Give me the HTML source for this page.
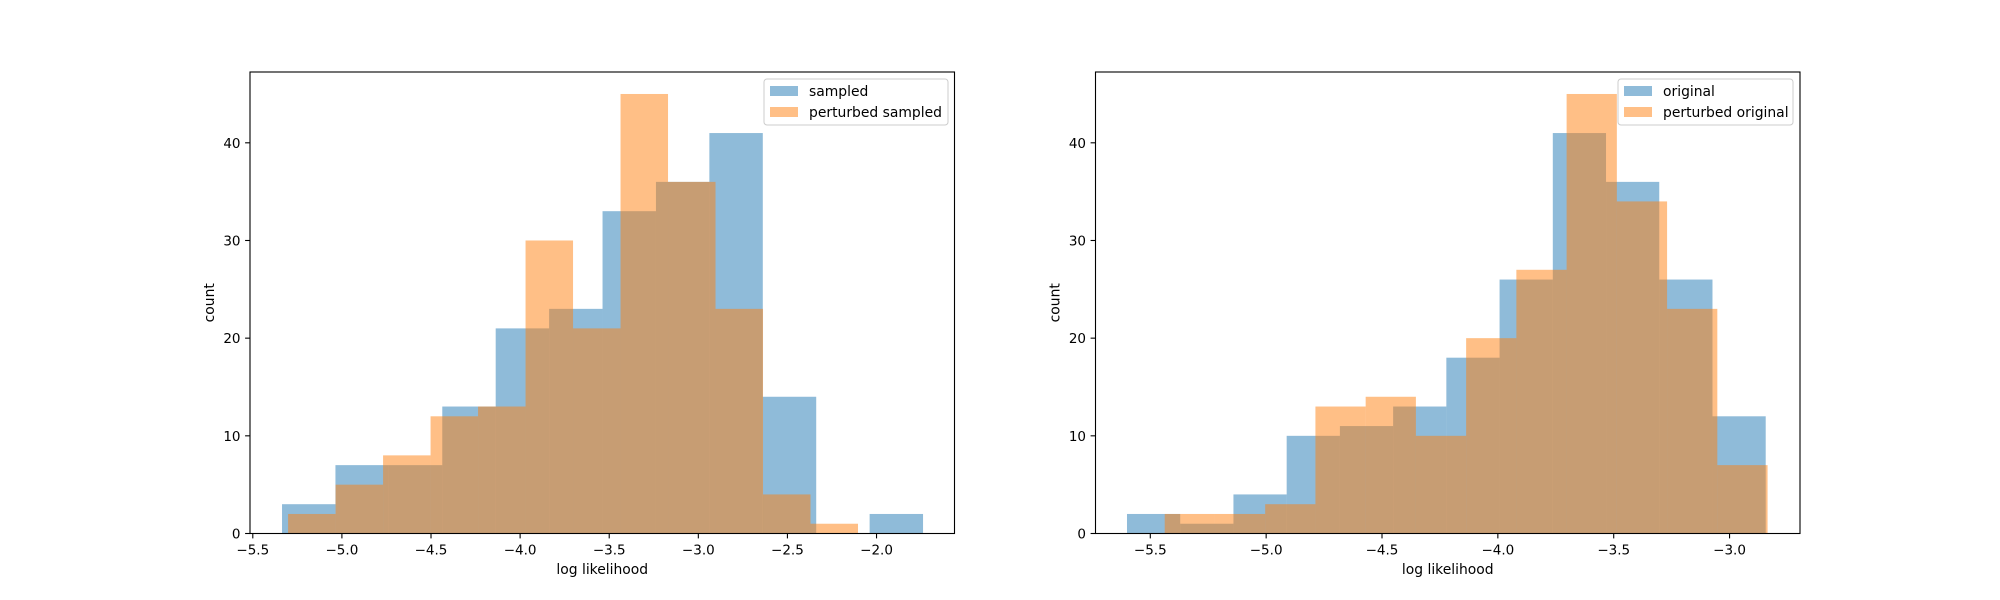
<!DOCTYPE html>
<html><head><meta charset="utf-8"><style>
html,body{margin:0;padding:0;background:#fff;}
svg{display:block;font-family:"DejaVu Sans","Liberation Sans",sans-serif;}
</style></head><body>
<svg id="chart" width="2000" height="600" viewBox="0 0 2000 600" xmlns="http://www.w3.org/2000/svg"></svg>
<script>
const leftBlueCounts = [3,7,7,13,21,23,33,36,41,14,0,2];
const leftBlueRange = [-5.336, -1.739];
const leftOrangeCounts = [2,5,8,12,13,30,21,45,36,23,4,1];
const leftOrangeRange = [-5.302, -2.104];
const rightBlueCounts = [2,1,4,10,11,13,18,26,41,36,26,12];
const rightBlueRange = [-5.6006, -2.844];
const rightOrangeCounts = [2,2,3,13,14,10,20,27,45,34,23,7];
const rightOrangeRange = [-5.4378, -2.836];
const leftXTicks = [-5.5,-5.0,-4.5,-4.0,-3.5,-3.0,-2.5,-2.0];
const rightXTicks = [-5.5,-5.0,-4.5,-4.0,-3.5,-3.0];
const yTicks = [0,10,20,30,40];
const leftLegend = ["sampled","perturbed sampled"];
const rightLegend = ["original","perturbed original"];

const NS="http://www.w3.org/2000/svg";
const svg=document.getElementById('chart');
function mk(tag,attrs,parent){const e=document.createElementNS(NS,tag);for(const k in attrs)e.setAttribute(k,attrs[k]);(parent||svg).appendChild(e);return e;}
const fmt=v=>(v<0?'\u2212':'')+Math.abs(v).toFixed(1);

function panel(name,ax,xlim,series,xticks,legend,legX0,legX1){
  const g=mk('g',{});
  
  
  const ylim=[0,47.25];
  const sx=v=>ax.x0+(v-xlim[0])/(xlim[1]-xlim[0])*(ax.x1-ax.x0);
  const sy=v=>ax.y1-(v-ylim[0])/(ylim[1]-ylim[0])*(ax.y1-ax.y0);
  series.forEach(s=>{
    const n=s.counts.length,w=(s.range[1]-s.range[0])/n;
    s.counts.forEach((c,i)=>{
      if(c<=0)return;
      const a=s.range[0]+i*w,b=a+w;
      const r=mk('rect',{x:sx(a),y:sy(c),width:sx(b)-sx(a),height:sy(0)-sy(c),fill:s.color,'fill-opacity':0.5},g);
      
      
    });
  });
  const frame=mk('rect',{x:ax.x0,y:ax.y0,width:ax.x1-ax.x0,height:ax.y1-ax.y0,fill:'none',stroke:'#000','stroke-width':1.1},g);
  
  
  xticks.forEach(t=>{
    const x=sx(t);
    mk('line',{x1:x,x2:x,y1:ax.y1,y2:ax.y1+4.9,stroke:'#000','stroke-width':1.1},g);
    const tx=mk('text',{x:x,y:ax.y1+21,'font-size':13.5,'text-anchor':'middle',fill:'#000'},g);
    tx.textContent=fmt(t);
    
    
  });
  yTicks.forEach(t=>{
    const y=sy(t);
    mk('line',{x1:ax.x0-4.9,x2:ax.x0,y1:y,y2:y,stroke:'#000','stroke-width':1.1},g);
    const tx=mk('text',{x:ax.x0-9.5,y:y+5,'font-size':13.5,'text-anchor':'end',fill:'#000'},g);
    tx.textContent=String(t);
    
    
  });
  const xl=mk('text',{x:(ax.x0+ax.x1)/2,y:574,'font-size':13.9,'text-anchor':'middle',fill:'#000'},g);
  xl.textContent='log likelihood';
  
  
  const yl=mk('text',{x:0,y:0,'font-size':13.9,'text-anchor':'middle',fill:'#000',transform:`translate(${ax.x0-36},${(ax.y0+ax.y1)/2}) rotate(-90)`},g);
  yl.textContent='count';
  
  
  const lg=mk('g',{},g);
  
  
  mk('rect',{x:legX0,y:79,width:legX1-legX0,height:46,rx:3,fill:'#fff','fill-opacity':0.8,stroke:'#ccc','stroke-width':1},lg);
  legend.forEach((lab,i)=>{
    const sw=mk('rect',{x:legX0+6,y:86+i*21,width:28,height:10,fill:series[i].color,'fill-opacity':0.5},lg);
    
    
    const t=mk('text',{x:legX0+45,y:96+i*21,'font-size':13.9,fill:'#000'},lg);
    t.textContent=lab;
    
    
  });
}
panel('left-histogram',{x0:250,x1:954.5,y0:72,y1:533.5},[-5.5157,-1.5625],
  [{key:'sampled',counts:leftBlueCounts,range:leftBlueRange,color:'#1f77b4'},
   {key:'perturbed-sampled',counts:leftOrangeCounts,range:leftOrangeRange,color:'#ff7f0e'}],
  leftXTicks,leftLegend,764,948);
panel('right-histogram',{x0:1095.5,x1:1800,y0:72,y1:533.5},[-5.7365,-2.696],
  [{key:'original',counts:rightBlueCounts,range:rightBlueRange,color:'#1f77b4'},
   {key:'perturbed-original',counts:rightOrangeCounts,range:rightOrangeRange,color:'#ff7f0e'}],
  rightXTicks,rightLegend,1618,1793);
</script>
</body></html>
